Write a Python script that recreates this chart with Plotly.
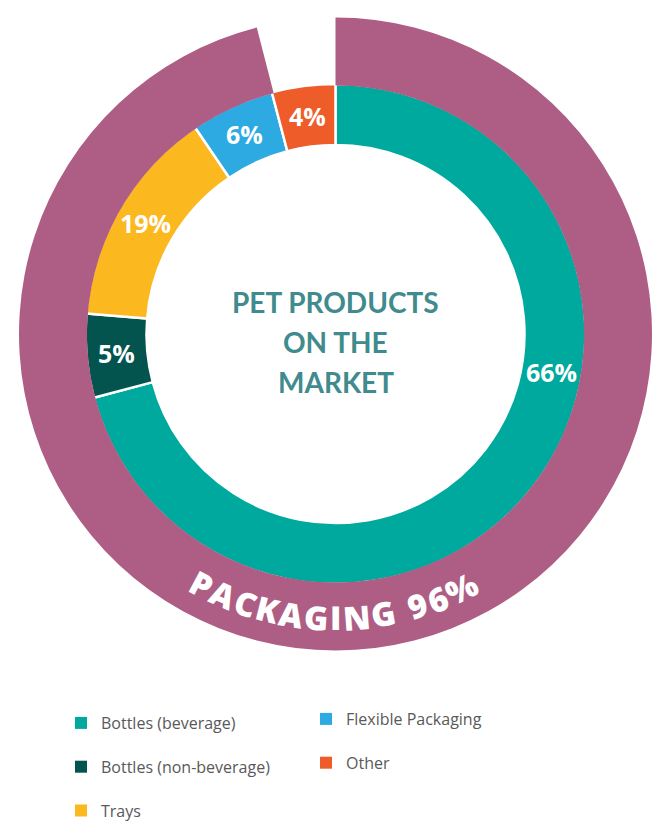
import math
import plotly.graph_objects as go

W, H = 652, 826

# ---------------- data ----------------
categories = ["Bottles (beverage)", "Bottles (non-beverage)", "Trays",
              "Flexible Packaging", "Other"]
slice_values = [70.9, 5.4, 14.2, 5.4, 4.1]          # slice sizes as drawn
slice_labels = ["66%", "5%", "19%", "6%", "4%"]      # printed labels
colors = ["#00A99D", "#03544E", "#FBB81F", "#2DAAE1", "#EE5C2A"]

outer_labels = ["Packaging", "Non-packaging"]
outer_values = [96, 4]
outer_colors = ["#AE5E85", "rgba(0,0,0,0)"]
outer_text = "PACKAGING 96%"

center_lines = ["PET PRODUCTS", "ON THE", "MARKET"]

legend_col1 = categories[:3]
legend_col2 = categories[3:]

# ---------------- geometry (px) ----------------
CX, CY = 335.5, 334.0
R_OUT, R_MID, R_IN = 316.5, 250.0, 189.0
TEAL_LABEL_ANGLE = 100.0


def dom(cx, cy, r):
    return dict(x=[max(0, (cx - r) / W), min(1, (cx + r) / W)],
                y=[max(0, 1 - (cy + r) / H), min(1, 1 - (cy - r) / H)])


def px(x, y):
    return x / W, 1 - y / H


fig = go.Figure()

# inner ring (drawn first so the outer ring covers its outer white edge)
fig.add_trace(go.Pie(
    values=slice_values, labels=categories, sort=False,
    direction="clockwise", rotation=0, hole=R_IN / R_MID,
    marker=dict(colors=colors, line=dict(color="white", width=2.5)),
    textinfo="none", hoverinfo="skip", showlegend=False,
    domain=dom(CX, CY, R_MID),
))

# outer ring
fig.add_trace(go.Pie(
    values=outer_values, labels=outer_labels, sort=False,
    direction="clockwise", rotation=0, hole=(R_MID - 1.5) / R_OUT,
    marker=dict(colors=outer_colors, line=dict(width=0)),
    textinfo="none", hoverinfo="skip", showlegend=False,
    domain=dom(CX, CY, R_OUT),
))

# legend entries (two columns)
for name in legend_col1:
    fig.add_trace(go.Scatter(
        x=[None], y=[None], mode="markers", name=name, legendgroup=name,
        marker=dict(symbol="square", size=12, color=colors[categories.index(name)],
                    line=dict(width=0)),
        legend="legend", hoverinfo="skip"))
for name in legend_col2:
    fig.add_trace(go.Scatter(
        x=[None], y=[None], mode="markers", name=name, legendgroup=name,
        marker=dict(symbol="square", size=12, color=colors[categories.index(name)],
                    line=dict(width=0)),
        legend="legend2", hoverinfo="skip"))

annotations = []

# percentage labels on the inner ring
total = sum(slice_values)
cum = 0.0
r_lab = (R_IN + R_MID) / 2
for i, (v, lab) in enumerate(zip(slice_values, slice_labels)):
    a0 = cum / total * 360
    cum += v
    a1 = cum / total * 360
    ang = TEAL_LABEL_ANGLE if i == 0 else (a0 + a1) / 2
    x = CX + r_lab * math.sin(math.radians(ang))
    y = CY - r_lab * math.cos(math.radians(ang))
    xp, yp = px(x, y)
    annotations.append(dict(
        x=xp, y=yp, xref="paper", yref="paper", text=lab, showarrow=False,
        xanchor="center", yanchor="middle",
        font=dict(family="Open Sans", size=25, color="white", weight="bold")))

# centre title
for i, line in enumerate(center_lines):
    xp, yp = px(CX, 302 + i * 40)
    annotations.append(dict(
        x=xp, y=yp, xref="paper", yref="paper", text=line, showarrow=False,
        xanchor="center", yanchor="middle",
        font=dict(family="Lato", size=28, color="#3F8B8D", weight="bold")))

# curved text along the outer ring
char_w = {'P': 0.60, 'A': 0.665, 'C': 0.625, 'K': 0.635, 'G': 0.70, 'I': 0.35,
          'N': 0.76, ' ': 0.26, '9': 0.572, '6': 0.572, '%': 0.84}
FS = 33
TRACK = 2.6
R_TEXT = 284.0
CENTER_ANG = -0.5
widths = [char_w.get(c, 0.6) * FS for c in outer_text]
L = sum(widths) + TRACK * (len(outer_text) - 1)
s = -L / 2
for c, w in zip(outer_text, widths):
    pos = s + w / 2
    s += w + TRACK
    if c == " ":
        continue
    alpha = CENTER_ANG + math.degrees(pos / R_TEXT)
    x = CX + R_TEXT * math.sin(math.radians(alpha))
    y = CY + R_TEXT * math.cos(math.radians(alpha))
    xp, yp = px(x, y)
    annotations.append(dict(
        x=xp, y=yp, xref="paper", yref="paper", text=c, showarrow=False,
        xanchor="center", yanchor="middle", textangle=-alpha,
        font=dict(family="Open Sans", size=FS, color="white", weight=800)))

legend_style = dict(
    xanchor="left", yanchor="top", orientation="v", traceorder="grouped",
    tracegroupgap=20, bgcolor="rgba(0,0,0,0)", borderwidth=0,
    font=dict(family="Open Sans", size=16, color="#595959"), itemwidth=30)

fig.update_layout(
    width=W, height=H,
    margin=dict(l=0, r=0, t=0, b=0, pad=0, autoexpand=False),
    paper_bgcolor="white", plot_bgcolor="white",
    xaxis=dict(visible=False), yaxis=dict(visible=False),
    annotations=annotations,
    legend=dict(x=61 / W, y=1 - 706 / H, **legend_style),
    legend2=dict(x=306 / W, y=1 - 702 / H, **legend_style),
)

fig.write_html(
    "out.html",
    config={"displayModeBar": False},
    post_script="document.body.style.margin='0';document.body.style.overflow='hidden';",
)
